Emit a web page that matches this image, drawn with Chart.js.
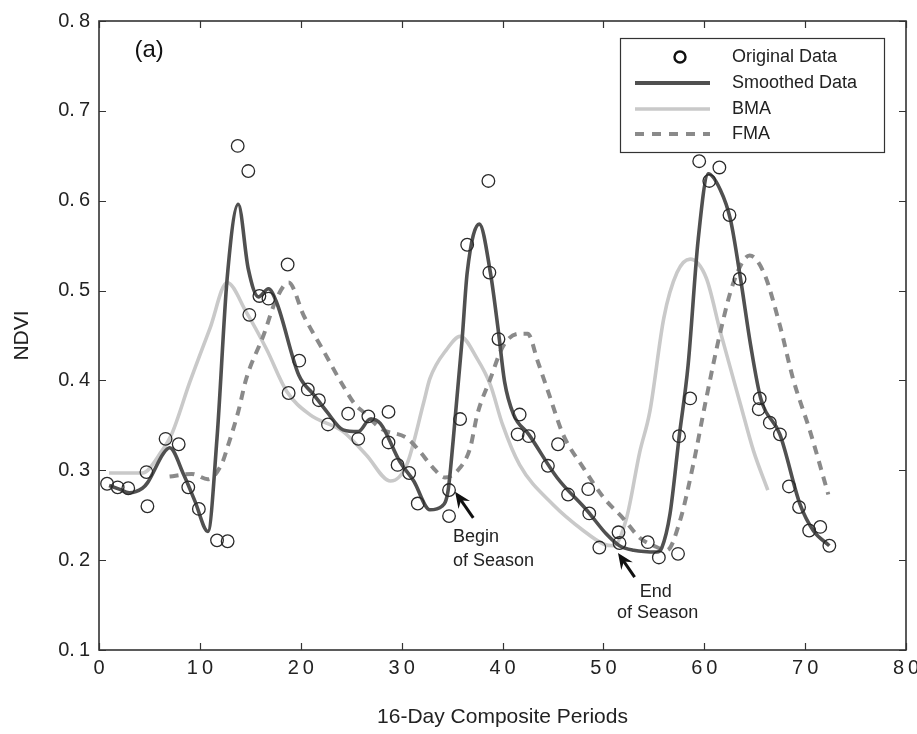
<!DOCTYPE html>
<html><head><meta charset="utf-8">
<script src="https://cdn.jsdelivr.net/npm/chart.js@4.4.1/dist/chart.umd.min.js"></script>
<style>
html,body{margin:0;padding:0;background:#fff;overflow:hidden;}
#wrap{width:917px;height:734px;overflow:hidden;position:relative;background:#fff;}
canvas{display:block;}
</style></head><body>
<div id="wrap"><canvas id="c" width="930" height="734"></canvas></div>
<script>
// ---- tick labels ----
const xTicks = [0, 10, 20, 30, 40, 50, 60, 70, 80];
const yTicks = [0.1, 0.2, 0.3, 0.4, 0.5, 0.6, 0.7, 0.8];

// ---- Original Data (circles) ----
const origX = [0.8, 1.85, 2.9, 4.7, 4.8, 6.6, 7.9, 8.85, 9.9, 11.7, 12.75, 13.75, 14.8, 14.9, 15.9, 16.8, 18.7, 18.8, 19.85, 20.7, 21.8, 22.7, 24.7, 25.7, 26.7, 28.7, 28.7, 29.6, 30.75, 31.6, 34.7, 34.7, 35.8, 36.5, 38.6, 38.7, 39.6, 41.5, 41.7, 42.6, 44.5, 45.5, 46.5, 48.5, 48.6, 49.6, 51.5, 51.6, 54.4, 55.5, 57.4, 57.5, 58.6, 59.5, 60.5, 61.5, 62.5, 63.5, 65.4, 65.5, 66.5, 67.5, 68.4, 69.4, 70.4, 71.5, 72.4];
const origY = [0.285, 0.281, 0.280, 0.298, 0.260, 0.335, 0.329, 0.281, 0.257, 0.222, 0.221, 0.661, 0.633, 0.473, 0.494, 0.491, 0.529, 0.386, 0.422, 0.390, 0.378, 0.351, 0.363, 0.335, 0.360, 0.365, 0.331, 0.306, 0.297, 0.263, 0.278, 0.249, 0.357, 0.551, 0.622, 0.520, 0.446, 0.340, 0.362, 0.338, 0.305, 0.329, 0.273, 0.279, 0.252, 0.214, 0.231, 0.219, 0.220, 0.203, 0.207, 0.338, 0.380, 0.644, 0.622, 0.637, 0.584, 0.513, 0.368, 0.380, 0.353, 0.340, 0.282, 0.259, 0.233, 0.237, 0.216];

// ---- Smoothed Data ----
const smoothX = [1, 2, 3, 4.3, 4.8, 6.4, 7.0, 8.4, 9.5, 10.8, 11.7, 12.7, 13.8, 14.8, 15.8, 16.8, 17.6, 19.8, 21.3, 22.6, 24.2, 25.7, 26.9, 27.9, 29.8, 31.2, 32.8, 34.0, 34.6, 35.1, 36.0, 36.5, 37.7, 38.8, 39.6, 40.2, 41.1, 42.6, 45.4, 48.4, 50.3, 51.6, 53.0, 55.3, 55.8, 56.6, 57.5, 58.4, 59.4, 60.4, 61.6, 62.6, 63.6, 64.6, 65.6, 67.5, 69.5, 70.8, 72.4];
const smoothY = [0.283, 0.279, 0.275, 0.280, 0.286, 0.319, 0.325, 0.295, 0.266, 0.232, 0.336, 0.513, 0.596, 0.524, 0.493, 0.502, 0.487, 0.406, 0.384, 0.365, 0.345, 0.343, 0.357, 0.352, 0.310, 0.288, 0.256, 0.260, 0.277, 0.332, 0.446, 0.520, 0.574, 0.520, 0.454, 0.399, 0.362, 0.340, 0.292, 0.255, 0.229, 0.216, 0.211, 0.209, 0.214, 0.251, 0.336, 0.417, 0.557, 0.630, 0.612, 0.579, 0.513, 0.439, 0.380, 0.340, 0.262, 0.233, 0.216];

// ---- BMA ----
const bmaX = [1, 4.3, 6.2, 7.2, 9.0, 11.0, 12.7, 14.6, 16.6, 18.6, 20.9, 24.2, 26.5, 28.9, 30.5, 32.2, 32.8, 34.5, 35.8, 37.5, 38.8, 40.0, 41.7, 45.0, 48.0, 50.0, 51.0, 52.3, 53.6, 54.6, 56.0, 57.3, 58.6, 60.2, 61.6, 63.6, 64.9, 66.3];
const bmaY = [0.297, 0.297, 0.321, 0.340, 0.398, 0.458, 0.509, 0.476, 0.435, 0.388, 0.362, 0.343, 0.317, 0.288, 0.306, 0.376, 0.402, 0.435, 0.449, 0.424, 0.395, 0.351, 0.306, 0.262, 0.233, 0.218, 0.216, 0.247, 0.320, 0.365, 0.470, 0.520, 0.535, 0.514, 0.454, 0.373, 0.321, 0.278];

// ---- FMA ----
const fmaX = [7.0, 9.2, 10.8, 12.2, 12.8, 13.8, 14.6, 16.3, 17.6, 18.8, 20.3, 22.3, 24.2, 25.4, 26.2, 28.0, 30.5, 31.8, 33.1, 34.3, 35.8, 36.8, 37.5, 38.8, 40.1, 41.7, 42.5, 43.5, 44.6, 46.0, 48.0, 50.0, 52.0, 53.6, 55.0, 56.3, 57.6, 58.9, 60.2, 61.6, 62.9, 64.5, 65.9, 67.5, 68.8, 70.5, 72.3];
const fmaY = [0.293, 0.296, 0.290, 0.308, 0.328, 0.365, 0.402, 0.450, 0.491, 0.509, 0.472, 0.432, 0.394, 0.373, 0.365, 0.346, 0.336, 0.321, 0.303, 0.292, 0.303, 0.325, 0.362, 0.402, 0.439, 0.452, 0.452, 0.421, 0.385, 0.340, 0.303, 0.270, 0.246, 0.225, 0.216, 0.211, 0.244, 0.306, 0.380, 0.454, 0.509, 0.539, 0.520, 0.461, 0.402, 0.343, 0.273];

const seriesNames = ['Original Data', 'Smoothed Data', 'BMA', 'FMA'];

const FONT = "'Liberation Sans', Arial, Helvetica, sans-serif";
const pts = (xs, ys) => xs.map((x, i) => ({x: x, y: ys[i]}));
const spaced = s => s.split('').join('\u2009');
const spacedY = s => s.replace('.', '.\u2009');

const COL_ORIG = '#2a2a2a', COL_SM = '#505050', COL_BMA = '#c9c9c9', COL_FMA = '#8a8a8a';

// inward ticks + box
const framePlugin = {
  id: 'frame',
  afterDatasetsDraw(chart) {
    const {ctx, chartArea: a, scales: {x, y}} = chart;
    ctx.save();
    ctx.strokeStyle = '#333';
    ctx.lineWidth = 1.2;
    ctx.beginPath();
    x.ticks.forEach(t => {
      const px = Math.round(x.getPixelForValue(t.value)) + 0.5;
      ctx.moveTo(px, a.bottom); ctx.lineTo(px, a.bottom - 7);
      ctx.moveTo(px, a.top); ctx.lineTo(px, a.top + 7);
    });
    y.ticks.forEach(t => {
      const py = Math.round(y.getPixelForValue(t.value)) + 0.5;
      ctx.moveTo(a.left, py); ctx.lineTo(a.left + 7, py);
      ctx.moveTo(a.right, py); ctx.lineTo(a.right - 7, py);
    });
    ctx.stroke();
    ctx.lineWidth = 1.6;
    ctx.strokeStyle = '#333';
    ctx.strokeRect(a.left, a.top, a.right - a.left, a.bottom - a.top);
    ctx.restore();
  }
};

function drawArrow(ctx, x0, y0, x1, y1) {
  const ang = Math.atan2(y1 - y0, x1 - x0);
  const c = Math.cos(ang), s = Math.sin(ang);
  const L = 16, W = 7;
  ctx.beginPath();
  ctx.moveTo(x0, y0);
  ctx.lineTo(x1 - c * L * 0.6, y1 - s * L * 0.6);
  ctx.lineWidth = 3;
  ctx.stroke();
  ctx.beginPath();
  ctx.moveTo(x1, y1);
  ctx.lineTo(x1 - c * L + W * s, y1 - s * L - W * c);
  ctx.lineTo(x1 - c * L * 0.65, y1 - s * L * 0.65);
  ctx.lineTo(x1 - c * L - W * s, y1 - s * L + W * c);
  ctx.closePath();
  ctx.fill();
}

const annoPlugin = {
  id: 'anno',
  afterDraw(chart) {
    const {ctx, chartArea: a, scales: {x, y}} = chart;
    ctx.save();
    ctx.fillStyle = '#111';
    ctx.strokeStyle = '#111';
    // panel label
    ctx.font = '24px ' + FONT;
    ctx.textAlign = 'center';
    ctx.textBaseline = 'middle';
    ctx.fillText('(a)', x.getPixelForValue(4.97), y.getPixelForValue(0.767));
    // season annotations
    ctx.font = '18px ' + FONT;
    ctx.textAlign = 'left';
    ctx.textBaseline = 'alphabetic';
    ctx.fillStyle = '#222';
    ctx.fillText('Begin', x.getPixelForValue(35.1), y.getPixelForValue(0.220));
    ctx.fillText('of Season', x.getPixelForValue(35.1), y.getPixelForValue(0.194));
    ctx.fillText('End', x.getPixelForValue(53.6), y.getPixelForValue(0.1586));
    ctx.fillText('of Season', x.getPixelForValue(51.36), y.getPixelForValue(0.1354));
    ctx.fillStyle = '#111';
    drawArrow(ctx, x.getPixelForValue(37.1), y.getPixelForValue(0.247), x.getPixelForValue(35.3), y.getPixelForValue(0.276));
    drawArrow(ctx, x.getPixelForValue(53.1), y.getPixelForValue(0.181), x.getPixelForValue(51.45), y.getPixelForValue(0.208));

    // legend box
    const L = a.right - 286, T = a.top + 17, Wd = 264, H = 114;
    ctx.fillStyle = '#fff';
    ctx.fillRect(L, T, Wd, H);
    ctx.lineWidth = 1.2;
    ctx.strokeStyle = '#333';
    ctx.strokeRect(L + 0.5, T + 0.5, Wd, H);
    const rows = [T + 19, T + 45, T + 71, T + 96];
    ctx.font = '18px ' + FONT;
    ctx.textBaseline = 'middle';
    ctx.textAlign = 'left';
    ctx.fillStyle = '#222';
    seriesNames.forEach((n, i) => ctx.fillText(n, L + 112, rows[i]));
    // markers
    ctx.beginPath();
    ctx.arc(L + 60, rows[0], 5.5, 0, Math.PI * 2);
    ctx.lineWidth = 2.4; ctx.strokeStyle = '#111'; ctx.stroke();
    const seg = (yy, col, w, dash) => {
      ctx.beginPath(); ctx.setLineDash(dash || []);
      ctx.moveTo(L + 15, yy); ctx.lineTo(L + 90, yy);
      ctx.lineWidth = w; ctx.strokeStyle = col; ctx.stroke();
      ctx.setLineDash([]);
    };
    seg(rows[1], COL_SM, 4);
    seg(rows[2], COL_BMA, 3.5);
    seg(rows[3], COL_FMA, 4, [9, 8]);
    ctx.restore();
  }
};

new Chart(document.getElementById('c'), {
  type: 'scatter',
  data: {
    datasets: [
      {label: seriesNames[0], data: pts(origX, origY), showLine: false, pointStyle: 'circle',
       pointRadius: 6.3, pointBorderWidth: 1.3, pointBorderColor: COL_ORIG, pointBackgroundColor: 'rgba(0,0,0,0)', order: 0},
      {label: seriesNames[1], data: pts(smoothX, smoothY), showLine: true, borderColor: COL_SM, borderWidth: 3.6,
       pointRadius: 0, cubicInterpolationMode: 'monotone', order: 1},
      {label: seriesNames[2], data: pts(bmaX, bmaY), showLine: true, borderColor: COL_BMA, borderWidth: 3.6,
       pointRadius: 0, cubicInterpolationMode: 'monotone', order: 3},
      {label: seriesNames[3], data: pts(fmaX, fmaY), showLine: true, borderColor: COL_FMA, borderWidth: 4,
       borderDash: [9, 7], pointRadius: 0, cubicInterpolationMode: 'monotone', order: 2}
    ]
  },
  options: {
    responsive: false,
    animation: false,
    events: [],
    layout: {padding: {left: 0, right: 24, top: 17, bottom: 0}},
    plugins: {legend: {display: false}, tooltip: {enabled: false}},
    scales: {
      x: {
        type: 'linear', min: 0, max: 80,
        afterBuildTicks: s => { s.ticks = xTicks.map(v => ({value: v})); },
        afterFit: s => { s.height = 84; },
        grid: {display: false, drawTicks: false},
        border: {display: false},
        ticks: {padding: 6, color: '#222', font: {family: FONT, size: 20}, maxRotation: 0,
                callback: v => spaced(String(v))},
        title: {display: true, text: '16-Day Composite Periods', color: '#222',
                font: {family: FONT, size: 21}, padding: {top: 4, bottom: 4}}
      },
      y: {
        type: 'linear', min: 0.1, max: 0.8,
        afterBuildTicks: s => { s.ticks = yTicks.map(v => ({value: v})); },
        afterFit: s => { s.width = 99; },
        grid: {display: false, drawTicks: false},
        border: {display: false},
        ticks: {padding: 9, color: '#222', font: {family: FONT, size: 20},
                callback: v => spacedY(Number(v).toFixed(1))},
        title: {display: true, text: 'NDVI', color: '#222',
                font: {family: FONT, size: 21}, padding: {top: 10, bottom: 10}}
      }
    }
  },
  plugins: [framePlugin, annoPlugin]
});
</script>
</body></html>
